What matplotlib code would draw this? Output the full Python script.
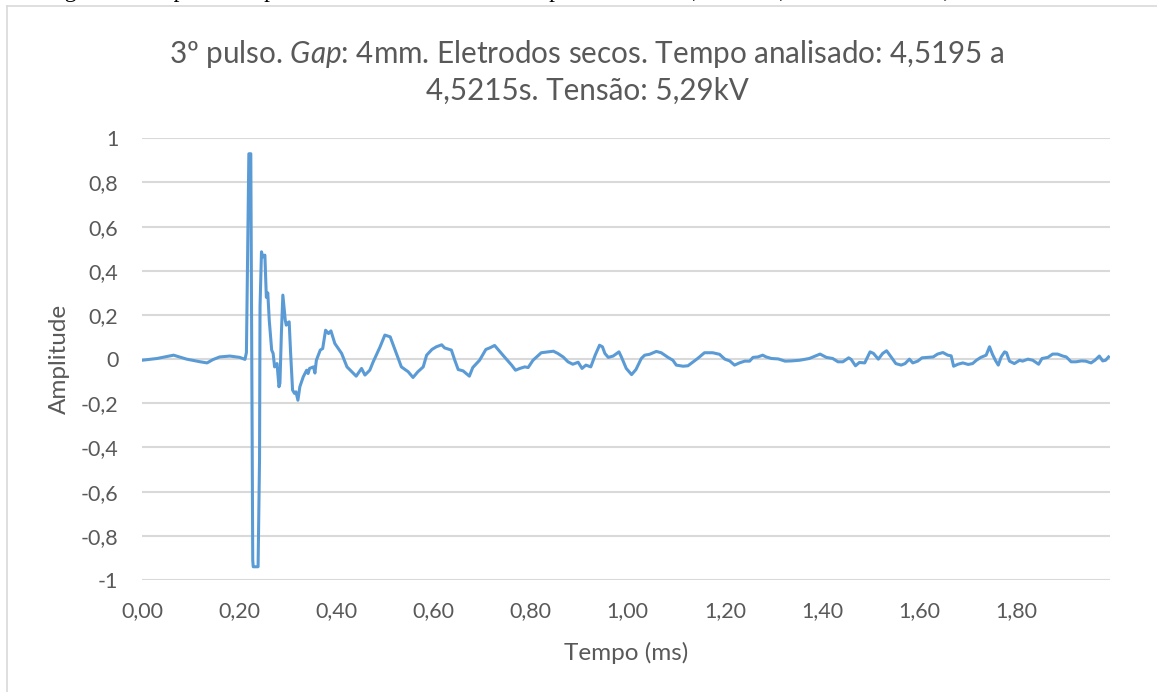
import matplotlib
matplotlib.use('Agg')
import matplotlib.pyplot as plt
from matplotlib.lines import Line2D

# valores (tempo em ms, amplitude normalizada)
tempo_ms = [0.000, 0.031, 0.065, 0.092, 0.120, 0.134, 0.146, 0.160, 0.181, 0.201,
            0.212, 0.215, 0.220, 0.224, 0.227, 0.228, 0.229, 0.239, 0.242, 0.243,
            0.246, 0.249, 0.253, 0.256, 0.259, 0.262, 0.267, 0.270, 0.273, 0.278,
            0.282, 0.284, 0.287, 0.290, 0.295, 0.297, 0.299, 0.303, 0.306, 0.310,
            0.314, 0.317, 0.321, 0.325, 0.332, 0.339, 0.342, 0.345, 0.353, 0.356,
            0.359, 0.367, 0.372, 0.378, 0.384, 0.389, 0.397, 0.411, 0.422, 0.441,
            0.452, 0.459, 0.469, 0.476, 0.490, 0.500, 0.511, 0.520, 0.534, 0.548,
            0.558, 0.568, 0.579, 0.586, 0.597, 0.606, 0.617, 0.623, 0.637, 0.644,
            0.651, 0.661, 0.674, 0.681, 0.695, 0.708, 0.716, 0.726, 0.733, 0.747,
            0.761, 0.769, 0.778, 0.788, 0.795, 0.805, 0.822, 0.836, 0.847, 0.856,
            0.867, 0.877, 0.887, 0.898, 0.906, 0.914, 0.924, 0.933, 0.942, 0.948,
            0.953, 0.960, 0.970, 0.982, 0.987, 0.997, 1.008, 1.017, 1.028, 1.035,
            1.045, 1.059, 1.069, 1.083, 1.093, 1.100, 1.114, 1.124, 1.135, 1.144,
            1.158, 1.175, 1.189, 1.200, 1.210, 1.220, 1.230, 1.241, 1.251, 1.258,
            1.268, 1.278, 1.285, 1.296, 1.310, 1.324, 1.337, 1.354, 1.374, 1.396,
            1.409, 1.422, 1.433, 1.443, 1.455, 1.460, 1.469, 1.477, 1.488, 1.499,
            1.506, 1.516, 1.525, 1.533, 1.543, 1.552, 1.563, 1.571, 1.580, 1.587,
            1.597, 1.606, 1.618, 1.629, 1.638, 1.649, 1.659, 1.666, 1.671, 1.680,
            1.690, 1.701, 1.710, 1.718, 1.727, 1.738, 1.745, 1.751, 1.757, 1.763,
            1.769, 1.776, 1.780, 1.786, 1.796, 1.807, 1.813, 1.824, 1.834, 1.846,
            1.853, 1.865, 1.875, 1.885, 1.896, 1.903, 1.913, 1.923, 1.934, 1.943,
            1.954, 1.962, 1.971, 1.978, 1.984, 1.990]
amplitude = [-0.005, 0.003, 0.018, 0.000, -0.012, -0.017, -0.002, 0.010, 0.014, 0.008,
             -0.001, 0.030, 0.930, 0.930, -0.457, -0.910, -0.940, -0.940, -0.450, 0.237,
             0.486, 0.463, 0.471, 0.280, 0.300, 0.176, 0.041, 0.026, -0.035, -0.020,
             -0.125, -0.109, 0.118, 0.290, 0.176, 0.154, 0.162, 0.169, 0.027, -0.140,
             -0.155, -0.148, -0.186, -0.125, -0.080, -0.050, -0.065, -0.042, -0.035, -0.063,
             -0.005, 0.041, 0.048, 0.131, 0.116, 0.128, 0.071, 0.026, -0.035, -0.077,
             -0.042, -0.072, -0.050, -0.012, 0.055, 0.109, 0.101, 0.048, -0.035, -0.057,
             -0.083, -0.057, -0.035, 0.018, 0.044, 0.056, 0.065, 0.051, 0.041, -0.005,
             -0.047, -0.053, -0.077, -0.038, -0.005, 0.044, 0.051, 0.062, 0.044, 0.008,
             -0.027, -0.050, -0.042, -0.035, -0.038, -0.005, 0.029, 0.033, 0.036, 0.026,
             0.010, -0.012, -0.023, -0.014, -0.042, -0.027, -0.035, 0.018, 0.063, 0.056,
             0.026, 0.008, 0.014, 0.033, 0.010, -0.042, -0.070, -0.047, 0.003, 0.018,
             0.022, 0.035, 0.029, 0.008, -0.005, -0.027, -0.032, -0.030, -0.012, 0.003,
             0.029, 0.029, 0.022, 0.000, -0.008, -0.027, -0.017, -0.009, -0.009, 0.008,
             0.010, 0.018, 0.010, 0.003, 0.001, -0.009, -0.008, -0.005, 0.003, 0.023,
             0.008, 0.003, -0.012, -0.012, 0.006, -0.001, -0.030, -0.015, -0.017, 0.033,
             0.026, 0.000, 0.026, 0.038, 0.008, -0.020, -0.027, -0.020, 0.000, -0.017,
             -0.009, 0.006, 0.008, 0.010, 0.023, 0.030, 0.018, 0.015, -0.032, -0.023,
             -0.017, -0.024, -0.020, -0.005, 0.008, 0.018, 0.056, 0.022, -0.005, -0.027,
             0.010, 0.033, 0.029, -0.009, -0.020, -0.005, -0.009, 0.000, -0.005, -0.023,
             0.003, 0.008, 0.023, 0.023, 0.014, 0.010, -0.012, -0.012, -0.008, -0.009,
             -0.017, -0.005, 0.014, -0.008, -0.005, 0.010]

x_ticks = [0.0, 0.2, 0.4, 0.6, 0.8, 1.0, 1.2, 1.4, 1.6, 1.8]
y_ticks = [-1, -0.8, -0.6, -0.4, -0.2, 0, 0.2, 0.4, 0.6, 0.8, 1]

titulo = '3º pulso. $\\mathit{Gap}$: 4mm. Eletrodos secos. Tempo analisado: 4,5195 a\n4,5215s. Tensão: 5,29kV'
legenda_fig = 'Figura 48: 3º pulso. Gap: 4mm. Eletrodos secos. Tempo analisado: 4,5195 a 4,5215s. Tensão: 5,29kV.'

cinza = '#595959'
plt.rcParams['font.family'] = ['Lato', 'DejaVu Sans']
plt.rcParams['mathtext.fontset'] = 'custom'
plt.rcParams['mathtext.it'] = 'Lato:italic'
plt.rcParams['mathtext.rm'] = 'Lato'

W, H = 1157, 692
fig = plt.figure(figsize=(W / 100, H / 100), dpi=100)

# legenda do documento, cortada no topo da imagem
fig.text(45 / W, 1 + 3 / H, legenda_fig, family='Liberation Serif', fontsize=17,
         ha='left', va='baseline', color='black')

# moldura do grafico
fig.add_artist(Line2D([7 / W, 7 / W], [1 - 6 / H, -0.1], color='#d9d9d9', lw=1.2))
fig.add_artist(Line2D([7 / W, 1.1], [1 - 6 / H, 1 - 6 / H], color='#d9d9d9', lw=1.2))

ax = fig.add_axes([142 / W, 1 - 580 / H, (1110 - 142) / W, (580 - 138.3) / H])
ax.plot(tempo_ms, amplitude, color='#5b9bd5', lw=2.2, solid_joinstyle='round')

ax.set_xlim(0, 1.993)
ax.set_ylim(-1, 1)
ax.set_xticks(x_ticks)
ax.set_xticklabels([('%.2f' % v).replace('.', ',') for v in x_ticks])
ax.set_yticks(y_ticks)
ax.set_yticklabels([('%g' % v).replace('.', ',') for v in y_ticks])
ax.tick_params(axis='both', length=0, labelsize=15.5, colors=cinza)
ax.tick_params(axis='y', pad=17)
ax.tick_params(axis='x', pad=15)
ax.grid(axis='y', color='#d9d9d9', lw=1.5)
ax.set_axisbelow(True)
for s in ax.spines.values():
    s.set_visible(False)

ax.set_xlabel('Tempo (ms)', fontsize=17.5, color=cinza, labelpad=15)
ax.set_ylabel('Amplitude', fontsize=17.5, color=cinza, labelpad=8)

fig.text(587 / W, 1 - 71 / H, titulo, fontsize=21.3, color=cinza,
         ha='center', va='center', linespacing=1.3)

fig.savefig('out.png', dpi=100)
